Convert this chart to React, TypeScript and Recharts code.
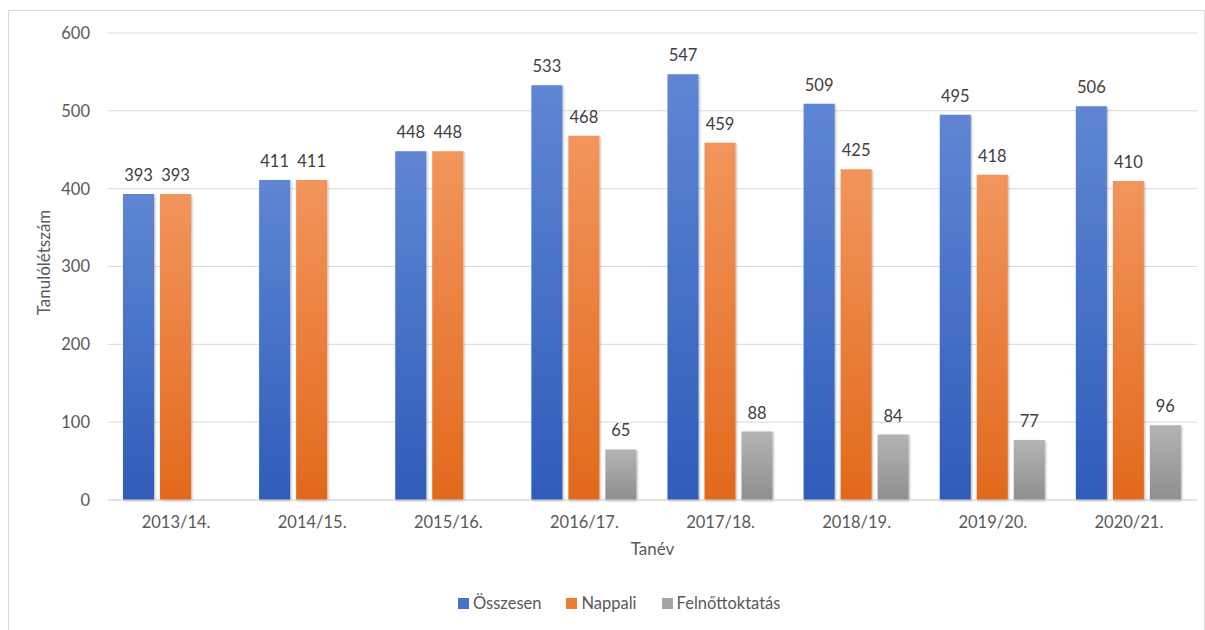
import {
  Bar,
  BarChart,
  CartesianGrid,
  Label,
  LabelList,
  Legend,
  Rectangle,
  XAxis,
  YAxis,
} from "recharts";

const YEARS = [
  "2013/14.",
  "2014/15.",
  "2015/16.",
  "2016/17.",
  "2017/18.",
  "2018/19.",
  "2019/20.",
  "2020/21.",
];
const OSSZESEN = [393, 411, 448, 533, 547, 509, 495, 506];
const NAPPALI = [393, 411, 448, 468, 459, 425, 418, 410];
const FELNOTT = [null, null, null, 65, 88, 84, 77, 96];
const Y_TICKS = [0, 100, 200, 300, 400, 500, 600];

const SERIES = [
  { key: "osszesen", name: "Összesen", color: "#4472c4", top: "#5f86d4", bottom: "#2f5cb9" },
  { key: "nappali", name: "Nappali", color: "#ed7d31", top: "#f2955c", bottom: "#e2691c" },
  { key: "felnott", name: "Felnőttoktatás", color: "#a5a5a5", top: "#b4b4b4", bottom: "#8e8e8e" },
];

const FONT = "Lato, 'Open Sans', sans-serif";
const TEXT = "#595959";

const data = YEARS.map((year, i) => ({
  year,
  osszesen: OSSZESEN[i],
  nappali: NAPPALI[i],
  felnott: FELNOTT[i],
}));

function ShadowBar(props: any) {
  return <Rectangle {...props} filter="url(#barShadow)" />;
}

function LegendContent() {
  return (
    <div style={{ display: "flex", alignItems: "center", fontFamily: FONT, fontSize: 16.5, color: TEXT }}>
      {SERIES.map((s) => (
        <div key={s.key} style={{ display: "flex", alignItems: "center", marginRight: 25 }}>
          <span style={{ width: 11, height: 11, background: s.color, marginRight: 4, display: "inline-block" }} />
          <span>{s.name}</span>
        </div>
      ))}
    </div>
  );
}

export default function App() {
  return (
    <div style={{ position: "absolute", left: 0, top: 0, width: 1205, height: 630, background: "#fff" }}>
      <div
        style={{
          position: "absolute",
          left: 8,
          top: 10,
          width: 1205 - 8,
          height: 630,
          border: "1px solid #d9d9d9",
          boxSizing: "border-box",
        }}
      />
      <BarChart
        width={1205}
        height={630}
        data={data}
        margin={{ top: 33, right: 8, left: 0, bottom: 13 }}
        barCategoryGap={15}
        barGap={6}
        style={{ position: "absolute", left: 0, top: 0 }}
      >
        <defs>
          {SERIES.map((s) => (
            <linearGradient key={s.key} id={`grad-${s.key}`} x1="0" y1="0" x2="0" y2="1">
              <stop offset="0%" stopColor={s.top} />
              <stop offset="100%" stopColor={s.bottom} />
            </linearGradient>
          ))}
          <filter id="barShadow" x="-20%" y="-20%" width="140%" height="140%">
            <feDropShadow dx="1" dy="1" stdDeviation="1.2" floodColor="#000" floodOpacity="0.3" />
          </filter>
        </defs>
        <CartesianGrid stroke="#d9d9d9" vertical={false} />
        <XAxis
          dataKey="year"
          height={93}
          axisLine={{ stroke: "#d9d9d9" }}
          tickLine={false}
          tickMargin={10}
          tick={{ fill: TEXT, fontSize: 16.5, fontFamily: FONT }}
        >
          <Label
            value="Tanév"
            position="insideTop"
            offset={43}
            fill={TEXT}
            style={{ fontSize: 17, fontFamily: FONT }}
          />
        </XAxis>
        <YAxis
          width={108}
          domain={[0, 600]}
          ticks={Y_TICKS}
          axisLine={false}
          tickLine={false}
          tickMargin={12}
          tick={{ fill: TEXT, fontSize: 16.5, fontFamily: FONT }}
        >
          <Label
            value="Tanulólétszám"
            angle={-90}
            position="center"
            dx={-10}
            dy={-4}
            fill={TEXT}
            style={{ fontSize: 17, fontFamily: FONT }}
          />
        </YAxis>
        <Legend verticalAlign="bottom" height={24} content={<LegendContent />} wrapperStyle={{ left: 458, width: "auto" }} />
        {SERIES.map((s) => (
          <Bar
            key={s.key}
            dataKey={s.key}
            name={s.name}
            fill={`url(#grad-${s.key})`}
            shape={ShadowBar}
            isAnimationActive={false}
          >
            <LabelList
              dataKey={s.key}
              position="top"
              offset={13}
              fill="#404040"
              fontSize={16.5}
              fontFamily={FONT}
            />
          </Bar>
        ))}
      </BarChart>
    </div>
  );
}
